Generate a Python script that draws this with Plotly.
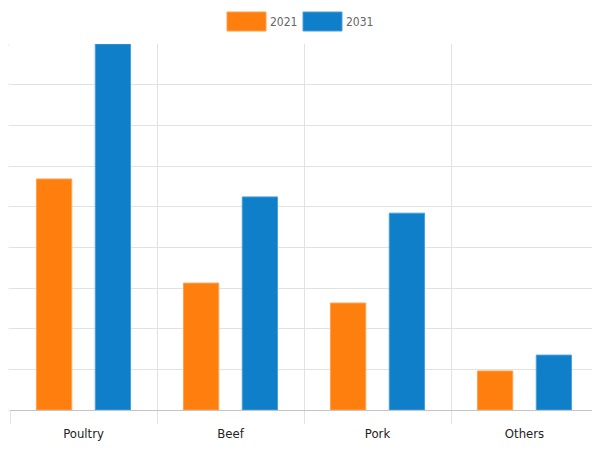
import plotly.graph_objects as go

categories = ["Poultry", "Beef", "Pork", "Others"]
series_names = ["2021", "2031"]
values_2021 = [5.68, 3.12, 2.63, 0.96]
values_2031 = [9.0, 5.24, 4.84, 1.35]
colors = ["#ff7f0e", "#107fc9"]
borders = ["#ffa04f", "#4a9fd8"]

fig = go.Figure()
for name, vals, c, b in zip(series_names, [values_2021, values_2031], colors, borders):
    fig.add_trace(go.Bar(x=categories, y=vals, name=name,
                         marker=dict(color=c, line=dict(color=b, width=1)),
                         showlegend=False))

font_fam = "DejaVu Sans Condensed, Liberation Sans Narrow, Arial Narrow, Liberation Sans, sans-serif"

# page body has an 8px margin: screen coords = figure coords + 8
OFF = 8
PL, PT, PW, PH = 10, 44, 588, 366  # plot area in screen coords
legend_x = [(227, 266, 270), (303, 342, 346)]
shapes = []
annotations = []
for (x0, x1, tx), name, c, b in zip(legend_x, series_names, colors, borders):
    shapes.append(dict(type="rect", xref="paper", yref="paper",
                       x0=(x0 - PL) / PW, x1=(x1 - PL) / PW,
                       y0=(PT + PH - 31) / PH, y1=(PT + PH - 12) / PH,
                       fillcolor=c, line=dict(color=b, width=1)))
    annotations.append(dict(xref="paper", yref="paper", x=(tx - PL) / PW,
                            y=(PT + PH - 21.5) / PH, text=name, showarrow=False,
                            xanchor="left", yanchor="middle", xshift=-2,
                            font=dict(family=font_fam, size=12, color="#666")))

fig.update_layout(
    width=592, height=444,
    margin=dict(l=PL - OFF, r=592 - (PL + PW - OFF), t=PT - OFF, b=444 - (PT + PH - OFF),
                autoexpand=False),
    paper_bgcolor="white", plot_bgcolor="white",
    barmode="group", bargap=0.2, bargroupgap=0.4,
    shapes=shapes, annotations=annotations,
    xaxis=dict(type="category", tickson="boundaries", showgrid=True, automargin=False,
               gridcolor="#e2e2e2", gridwidth=1, ticks="outside", ticklen=13,
               tickcolor="#e2e2e2", showline=True, linecolor="#c4c4c4", linewidth=1,
               ticklabelstandoff=11,
               tickfont=dict(family=font_fam, size=13, color="#222")),
    yaxis=dict(range=[0, 9], dtick=1, showgrid=True, gridcolor="#e2e2e2", automargin=False,
               ticks="outside", ticklen=10, tickcolor="#e2e2e2",
               showticklabels=False, zeroline=False, showline=False),
)

fig.write_html("out.html")
